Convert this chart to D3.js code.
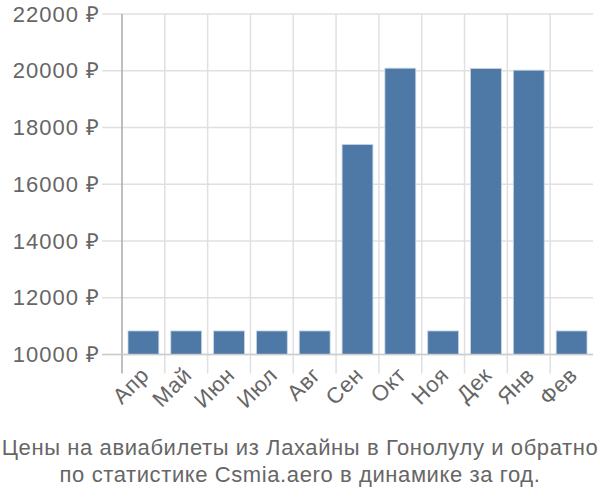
<!DOCTYPE html>
<html><head><meta charset="utf-8">
<script src="https://cdn.jsdelivr.net/npm/d3@7"></script>
<style>body{margin:0;background:#fff}svg text{font-family:"Liberation Sans",Arial,sans-serif;fill:#666}</style>
</head><body><svg id="c" width="600" height="500"></svg>
<script>
const categories = ["Апр","Май","Июн","Июл","Авг","Сен","Окт","Ноя","Дек","Янв","Фев"];
const values = [10830,10830,10830,10830,10830,17400,20090,10830,20080,20020,10830];
const yTicks = [10000,12000,14000,16000,18000,20000,22000];
const titleLines = ["Цены на авиабилеты из Лахайны в Гонолулу и обратно","по статистике Csmia.aero в динамике за год."];

(function(){
const svg = d3.select("#c");
const mL = 122, mR = 593, mT = 14, mB = 354.5;
const x = d3.scaleBand().domain(categories).range([mL, mR]).paddingInner(0.28).paddingOuter(0.14);
const xg = d3.scaleBand().domain(categories).range([mL, mR]);
const y = d3.scaleLinear().domain([10000, 22000]).range([mB, mT]);

svg.append("g").selectAll("line").data(yTicks).join("line")
  .attr("x1", mL - 20).attr("x2", mR).attr("y1", d => y(d)).attr("y2", d => y(d))
  .attr("stroke", "#e0e0e0").attr("stroke-width", 1.5);
svg.append("g").selectAll("line").data(categories.slice(1)).join("line")
  .attr("x1", d => xg(d)).attr("x2", d => xg(d)).attr("y1", mT).attr("y2", mB + 19)
  .attr("stroke", "#e0e0e0").attr("stroke-width", 1.5);
svg.append("line").attr("x1", mL).attr("x2", mL).attr("y1", mT).attr("y2", mB + 19)
  .attr("stroke", "#aaa").attr("stroke-width", 1.5);

svg.append("g").selectAll("rect").data(values).join("rect")
  .attr("x", (d, i) => x(categories[i])).attr("width", x.bandwidth())
  .attr("y", d => y(d)).attr("height", d => mB - y(d))
  .attr("fill", "#4e79a7").attr("stroke", "#c7d4e3").attr("stroke-width", 0.8);

svg.append("line").attr("x1", mL - 20).attr("x2", mR).attr("y1", mB).attr("y2", mB)
  .attr("stroke", "#cccccc").attr("stroke-width", 1.5);

svg.append("g").selectAll("text").data(yTicks).join("text")
  .attr("x", 100).attr("y", d => y(d)).attr("dy", "0.35em").attr("text-anchor", "end")
  .style("font-size", "22px").style("letter-spacing", "1px").text(d => d + " ₽");

svg.append("g").selectAll("text").data(categories).join("text")
  .attr("transform", d => `translate(${x(d) + x.bandwidth()/2 + 7},${mB + 22}) rotate(-45)`)
  .attr("text-anchor", "end").style("font-size", "22px").style("letter-spacing", "0.6px").text(d => d);

svg.append("g").selectAll("text").data(titleLines).join("text")
  .attr("x", 300).attr("y", (d, i) => 455 + i * 27).attr("text-anchor", "middle")
  .style("font-size", "22px").style("letter-spacing", "0.6px").text(d => d);
})();
</script></body></html>
